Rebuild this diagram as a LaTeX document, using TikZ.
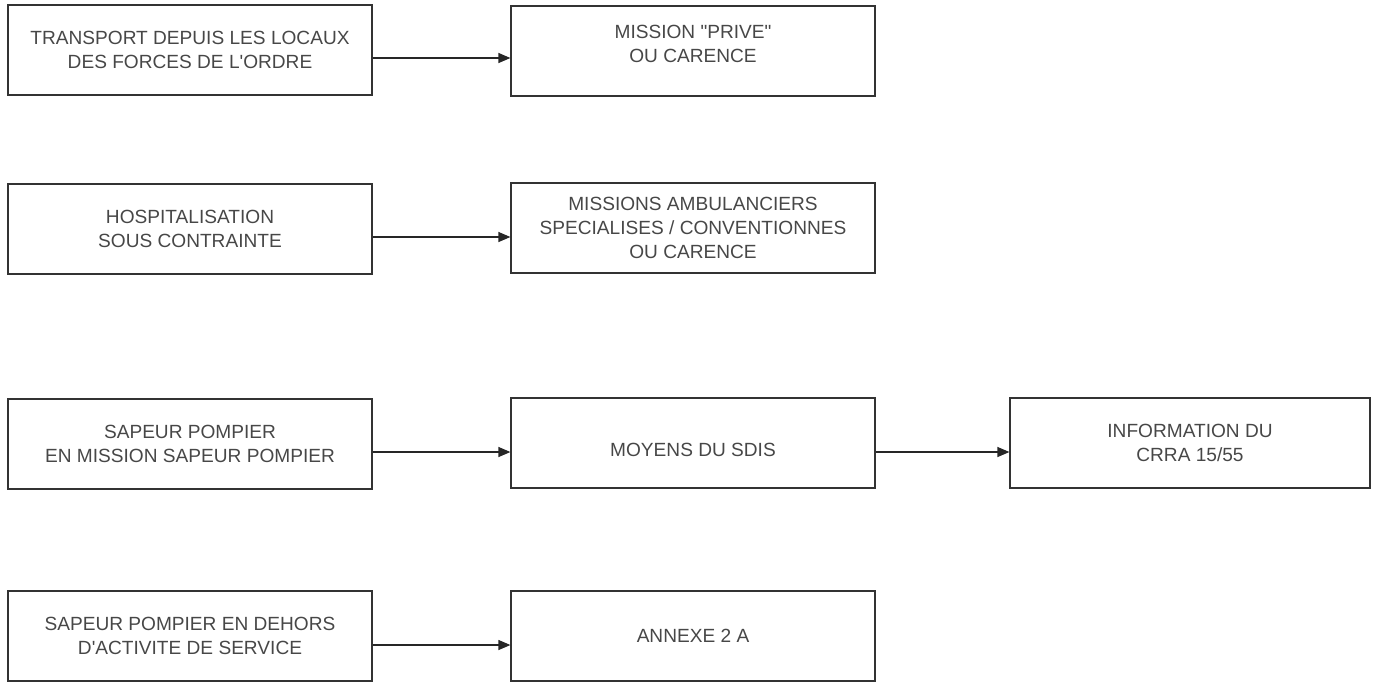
\documentclass[tikz,border=0pt]{standalone}
\usepackage{fontspec}
\newfontfamily\arialf{Liberation Sans}
\usetikzlibrary{arrows.meta}
\begin{document}
\begin{tikzpicture}[x=0.5pt,y=-0.5pt,
  txt/.style={align=center, text=black!72, font=\arialf\fontsize{9.55pt}{12pt}\selectfont},
  box/.style={txt, draw=black!80, line width=0.6pt, rectangle,
    minimum width=182pt, minimum height=45pt, inner sep=0pt},
  conn/.style={draw=black!85, line width=0.6pt, -{Triangle[length=6pt,width=5pt]}}]
\useasboundingbox (0,0) rectangle (1380,682);
% left column
\node[box] (l1) at (190,50) {TRANSPORT DEPUIS LES LOCAUX\\DES FORCES DE L'ORDRE};
\node[box] (l2) at (190,229) {HOSPITALISATION\\SOUS CONTRAINTE};
\node[box] (l3) at (190,444) {SAPEUR POMPIER\\EN MISSION SAPEUR POMPIER};
\node[box] (l4) at (190,636) {SAPEUR POMPIER EN DEHORS\\D'ACTIVITE DE SERVICE};
% middle column
\node[box, label={[txt, yshift=3.5pt]center:{MISSION "PRIVE"\\OU CARENCE}}] (m1) at (693,51) {};
\node[box] (m2) at (693,228) {MISSIONS AMBULANCIERS\\SPECIALISES / CONVENTIONNES\\OU CARENCE};
\node[box, label={[txt, yshift=-3.5pt]center:{MOYENS DU SDIS}}] (m3) at (693,443) {};
\node[box] (m4) at (693,636) {ANNEXE 2 A};
% right
\node[box, minimum width=180pt] (r3) at (1190,443) {INFORMATION DU\\CRRA 15/55};
% connectors
\draw[conn] (l1.east |- 0,58) -- (m1.west |- 0,58);
\draw[conn] (l2.east |- 0,237) -- (m2.west |- 0,237);
\draw[conn] (l3.east |- 0,452) -- (m3.west |- 0,452);
\draw[conn] (m3.east |- 0,452) -- (r3.west |- 0,452);
\draw[conn] (l4.east |- 0,645) -- (m4.west |- 0,645);
\end{tikzpicture}
\end{document}
